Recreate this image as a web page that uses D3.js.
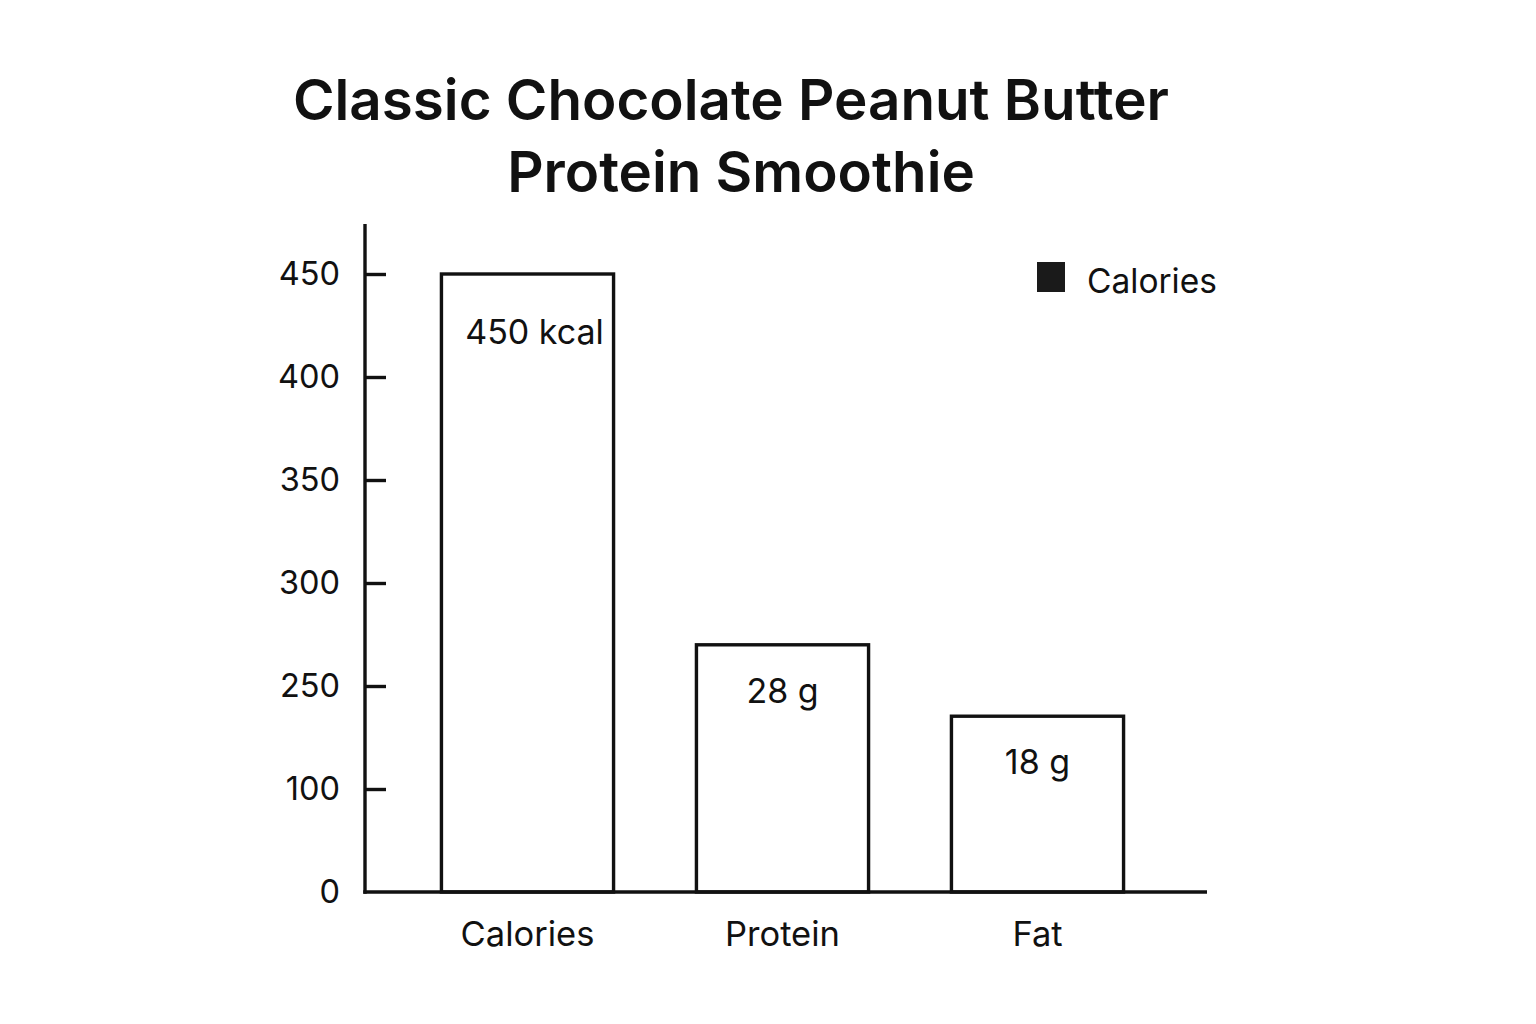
<!DOCTYPE html>
<html>
<head>
<meta charset="utf-8">
<script src="https://cdn.jsdelivr.net/npm/d3@7"></script>
<style>
  body { margin: 0; background: #fff; }
  svg { font-family: Inter, "Noto Sans", sans-serif; }
</style>
</head>
<body>
<svg width="1536" height="1024"></svg>
<script>
// data
var categories = ["Calories", "Protein", "Fat"];
var barValues = [450, 270, 206];          // bar heights on the (uneven) axis
var barLabels = ["450 kcal", "28 g", "18 g"];
var tickValues = [0, 100, 250, 300, 350, 400, 450];
var legendItems = ["Calories"];
var titleLines = ["Classic Chocolate Peanut Butter", "Protein Smoothie"];

var svg = d3.select("svg");
var ink = "#111";
var sw = 3.4;

// title
svg.append("text")
    .attr("text-anchor", "middle")
    .style("font-size", "56.5px")
    .style("font-weight", 600)
    .style("fill", ink)
    .selectAll("tspan")
    .data(titleLines)
    .enter().append("tspan")
    .attr("x", function(d, i) { return i === 0 ? 731 : 741; })
    .attr("y", function(d, i) { return 120 + i * 72; })
    .text(function(d) { return d; });

// tick labels are evenly spaced even though the values are not
var tickStep = 103;
var y = d3.scaleLinear()
    .domain(tickValues)
    .range(tickValues.map(function(d, i) { return 892 - i * tickStep; }));

var x = d3.scaleBand()
    .domain(categories)
    .range([400, 1165])
    .paddingInner(0.325)
    .paddingOuter(0.1625);

var axisLeft = 365, axisRight = 1207, axisTop = 224;

// y axis
var yAxis = svg.append("g")
    .attr("transform", "translate(" + axisLeft + ",0)")
    .call(d3.axisLeft(y).tickValues(tickValues).tickSize(0).tickPadding(25)
        .tickFormat(d3.format("d")));
yAxis.select(".domain").remove();
yAxis.selectAll(".tick text")
    .style("font-size", "32.5px")
    .style("font-family", "Inter, 'Noto Sans', sans-serif")
    .style("fill", ink);
yAxis.selectAll(".tick line")
    .attr("x2", 21)
    .attr("stroke", ink)
    .attr("stroke-width", sw)
    .filter(function(d) { return d === 0; }).remove();

svg.append("line")
    .attr("x1", axisLeft).attr("x2", axisLeft)
    .attr("y1", axisTop).attr("y2", y(0) + sw / 2)
    .attr("stroke", ink).attr("stroke-width", sw);

// x axis
var xAxis = svg.append("g")
    .attr("transform", "translate(0," + y(0) + ")")
    .call(d3.axisBottom(x).tickSize(0).tickPadding(30));
xAxis.select(".domain").remove();
xAxis.selectAll(".tick text")
    .style("font-size", "34.5px")
    .style("font-family", "Inter, 'Noto Sans', sans-serif")
    .style("fill", ink);

// bars
svg.selectAll(".bar")
    .data(categories)
    .enter().append("rect")
    .attr("class", "bar")
    .attr("x", function(d) { return x(d); })
    .attr("width", x.bandwidth())
    .attr("y", function(d, i) { return y(barValues[i]); })
    .attr("height", function(d, i) { return y(0) - y(barValues[i]); })
    .attr("fill", "#fff")
    .attr("stroke", ink)
    .attr("stroke-width", sw);

svg.append("line")
    .attr("x1", axisLeft - sw / 2).attr("x2", axisRight)
    .attr("y1", y(0)).attr("y2", y(0))
    .attr("stroke", ink).attr("stroke-width", sw);

// value labels inside bars
svg.selectAll(".label")
    .data(categories)
    .enter().append("text")
    .attr("class", "label")
    .attr("x", function(d, i) { return x(d) + x.bandwidth() / 2 + (i === 0 ? 7 : 0); })
    .attr("y", function(d, i) { return y(barValues[i]) + (i === 0 ? 70 : 58); })
    .attr("text-anchor", "middle")
    .style("font-size", "34px")
    .style("fill", ink)
    .text(function(d, i) { return barLabels[i]; });

// legend
var legend = svg.append("g").attr("transform", "translate(1037,262)");
legend.selectAll("rect")
    .data(legendItems)
    .enter().append("rect")
    .attr("width", 28).attr("height", 30)
    .attr("fill", "#1a1a1a");
legend.selectAll("text")
    .data(legendItems)
    .enter().append("text")
    .attr("x", 50).attr("y", 31)
    .style("font-size", "33.5px")
    .style("fill", ink)
    .text(function(d) { return d; });
</script>
</body>
</html>
